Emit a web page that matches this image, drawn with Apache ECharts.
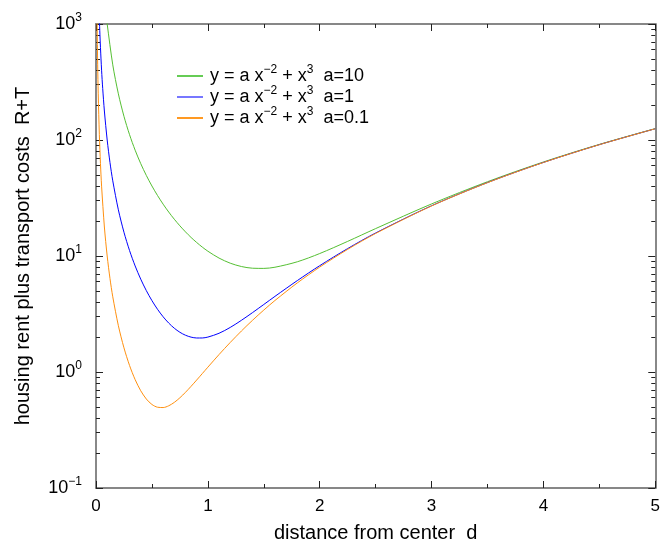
<!DOCTYPE html>
<html>
<head>
<meta charset="utf-8">
<script src="https://cdn.jsdelivr.net/npm/echarts@6/dist/echarts.min.js"></script>
<style>
html,body{margin:0;padding:0;background:#fff;}
#c{width:663px;height:548px;}
</style>
</head>
<body>
<div id="c"></div>
<script>
// ---- data ----
var seriesNames = ['a=10', 'a=1', 'a=0.1'];
var greenX = [0.09, 0.1, 0.15, 0.2, 0.25, 0.3, 0.35, 0.4, 0.45, 0.5, 0.55, 0.6, 0.65, 0.7, 0.75, 0.8, 0.85, 0.9, 0.95, 1.0, 1.1, 1.2, 1.3, 1.4, 1.5, 1.6, 1.8, 2.0, 2.25, 2.5, 3.0, 3.5, 4.0, 4.5, 5.0];
var greenY = [1235, 1000, 444.4, 250, 160.0, 111.1, 81.67, 62.56, 49.47, 40.13, 33.23, 27.99, 23.94, 20.75, 18.20, 16.14, 14.45, 13.08, 11.94, 11.0, 9.595, 8.672, 8.114, 7.846, 7.819, 8.002, 8.918, 10.5, 13.37, 17.23, 28.11, 43.69, 64.63, 91.62, 125.4];
var blueX = [0.028, 0.03, 0.035, 0.04, 0.05, 0.06, 0.075, 0.1, 0.125, 0.15, 0.2, 0.25, 0.3, 0.35, 0.4, 0.45, 0.5, 0.55, 0.6, 0.65, 0.7, 0.75, 0.8, 0.85, 0.9, 0.95, 1.0, 1.1, 1.2, 1.3, 1.4, 1.5, 1.6, 1.8, 2.0, 2.25, 2.5, 3.0, 3.5, 4.0, 4.5, 5.0];
var blueY = [1276, 1111, 816.3, 625, 400, 277.8, 177.8, 100.0, 64.0, 44.45, 25.01, 16.02, 11.14, 8.206, 6.314, 5.029, 4.125, 3.472, 2.994, 2.642, 2.384, 2.200, 2.075, 1.998, 1.964, 1.965, 2.0, 2.157, 2.422, 2.789, 3.254, 3.819, 4.487, 6.141, 8.25, 11.59, 15.79, 27.11, 42.96, 64.06, 91.17, 125.04];
var orangeX = [0.009, 0.01, 0.015, 0.02, 0.03, 0.04, 0.05, 0.075, 0.1, 0.125, 0.15, 0.2, 0.25, 0.3, 0.35, 0.4, 0.45, 0.5, 0.55, 0.6, 0.65, 0.7, 0.75, 0.8, 0.85, 0.9, 0.95, 1.0, 1.1, 1.2, 1.3, 1.4, 1.5, 1.6, 1.8, 2.0, 2.25, 2.5, 3.0, 3.5, 4.0, 4.5, 5.0];
var orangeY = [1235, 1000, 444.4, 250, 111.1, 62.5, 40.0, 17.78, 10.0, 6.402, 4.447, 2.508, 1.616, 1.138, 0.8592, 0.689, 0.5849, 0.525, 0.497, 0.4938, 0.5113, 0.5471, 0.5997, 0.6683, 0.7525, 0.8525, 0.9682, 1.1, 1.414, 1.797, 2.256, 2.795, 3.419, 4.135, 5.863, 8.025, 11.41, 15.64, 27.01, 42.88, 64.01, 91.13, 125.0];
var yMinorTicks = [0.2,0.3,0.4,0.5,0.6,0.7,0.8,0.9, 2,3,4,5,6,7,8,9, 20,30,40,50,60,70,80,90, 200,300,400,500,600,700,800,900];
var xMinorTicks = [0.5, 1.5, 2.5, 3.5, 4.5];
var xLabel = 'distance from center  d';
var yLabel = 'housing rent plus transport costs  R+T';

function pairs(xs, ys){ return xs.map(function(x,i){ return [x, ys[i]]; }); }

var FONT = '"Liberation Sans", Arial, sans-serif';
var tickColor = '#222';
function lineStyle(){ return {color:'#808080', width:1.5}; }

function supLabel(v){
  var e = Math.round(Math.log10(v));
  var s = e < 0 ? '\u2212' + (-e) : '' + e;
  return '{b|10}{s|' + s + '}';
}

// minor y ticks on overlay axes in log10 space, so they line up with the log axis
function yMinorAxis(pos){
  return {
    type:'value', min:-1, max:3, interval:1, position:pos,
    axisLine:{show:true, onZero:false, lineStyle:lineStyle()},
    axisLabel:{show:false},
    splitLine:{show:false},
    axisTick:{show:true, inside:true, length:4, lineStyle:{color:tickColor, width:1},
      customValues: yMinorTicks.map(function(v){ return Math.log10(v); })}
  };
}
function xTickAxis(pos, major){
  var o = {
    type:'value', min:0, max:5, interval:1, position:pos,
    axisLine:{show:true, onZero:false, lineStyle:lineStyle()},
    axisLabel:{show:false},
    splitLine:{show:false},
    axisTick:{show:true, inside:true, length: major ? 7 : 4, lineStyle:{color:tickColor, width:1}}
  };
  if (!major) { o.axisTick.customValues = xMinorTicks; }
  return o;
}

var chart = echarts.init(document.getElementById('c'));
chart.setOption({
  backgroundColor:'#fff',
  animation:false,
  grid:{left:96, right:6, top:24, bottom:58},
  legend:{
    show:true, orient:'vertical', left:172, top:59,
    itemWidth:26, itemHeight:2, itemGap:0,
    icon:'rect',
    data: seriesNames,
    formatter: function(name){
      return '{t|y = a x}{s|\u22122}{t| + x}{s|3}{t|  ' + name + '}';
    },
    textStyle:{
      fontFamily:FONT, color:'#000', padding:[0,0,0,2],
      rich:{
        t:{fontSize:18, fontFamily:FONT, color:'#000', lineHeight:24},
        s:{fontSize:12, fontFamily:FONT, color:'#000', verticalAlign:'top', lineHeight:12}
      }
    }
  },
  xAxis:[
    {type:'value', min:0, max:5, interval:1, position:'bottom',
     name:xLabel, nameLocation:'middle', nameGap:35,
     nameTextStyle:{fontSize:20, fontFamily:FONT, color:'#000'},
     axisLine:{show:true, onZero:false, lineStyle:lineStyle()},
     axisTick:{show:true, inside:true, length:7, lineStyle:{color:tickColor, width:1}},
     axisLabel:{show:true, fontSize:17, fontFamily:FONT, color:'#000', margin:10},
     splitLine:{show:false}},
    xTickAxis('bottom', false),
    xTickAxis('top', true),
    xTickAxis('top', false)
  ],
  yAxis:[
    {type:'log', min:0.1, max:1000, logBase:10, splitNumber:4, position:'left',
     name:yLabel, nameLocation:'middle', nameGap:63,
     nameTextStyle:{fontSize:20, fontFamily:FONT, color:'#000'},
     axisLine:{show:true, onZero:false, lineStyle:lineStyle()},
     axisTick:{show:true, inside:true, length:7, lineStyle:{color:tickColor, width:1}},
     splitLine:{show:false},
     axisLabel:{show:true, margin:14, formatter: supLabel,
       rich:{
         b:{fontSize:18, fontFamily:FONT, color:'#000', lineHeight:24},
         s:{fontSize:12, fontFamily:FONT, color:'#000', verticalAlign:'top', lineHeight:12}
       }}},
    {type:'log', min:0.1, max:1000, logBase:10, splitNumber:4, position:'right',
     axisLine:{show:true, onZero:false, lineStyle:lineStyle()},
     axisTick:{show:true, inside:true, length:7, lineStyle:{color:tickColor, width:1}},
     axisLabel:{show:false}, splitLine:{show:false}},
    yMinorAxis('left'),
    yMinorAxis('right')
  ],
  series:[
    {name:seriesNames[0], type:'line', data:pairs(greenX, greenY), showSymbol:false, smooth:0.3, clip:true,
     lineStyle:{color:'#55bf33', width:1}, itemStyle:{color:'#66cc55'}},
    {name:seriesNames[1], type:'line', data:pairs(blueX, blueY), showSymbol:false, smooth:0.3, clip:true,
     lineStyle:{color:'#0000ff', width:1}, itemStyle:{color:'#7777ff'}},
    {name:seriesNames[2], type:'line', data:pairs(orangeX, orangeY), showSymbol:false, smooth:0.3, clip:true,
     lineStyle:{color:'#ff9010', width:1}, itemStyle:{color:'#ff9922'}}
  ]
});
</script>
</body>
</html>
